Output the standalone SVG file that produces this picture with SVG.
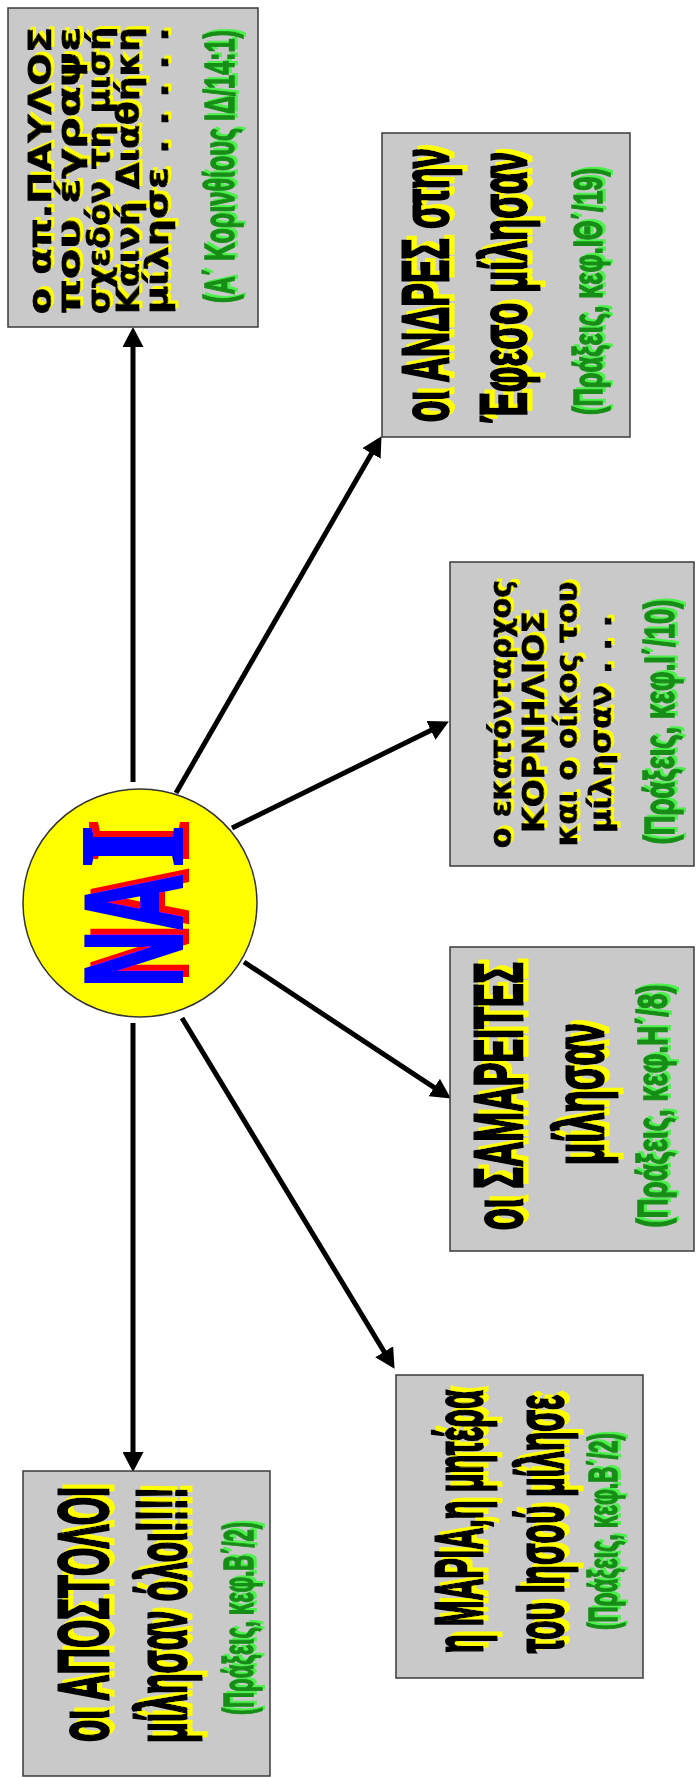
<svg xmlns="http://www.w3.org/2000/svg" width="698" height="1778" viewBox="0 0 698 1778">
<style>
.box{fill:#c9c9c9;stroke:#3a3a3a;stroke-width:1.5}
.vb{font-family:"DejaVu Sans","Liberation Sans",sans-serif;font-weight:bold;fill:#000;stroke:#000;stroke-width:0.9}
.im{font-family:"Liberation Sans","DejaVu Sans",sans-serif;font-weight:bold;fill:#000;stroke:#000;stroke-width:3}
.gr{font-family:"Liberation Sans","DejaVu Sans",sans-serif;font-weight:bold;fill:#178e17;stroke:#178e17;stroke-width:1.6}
.con line{stroke:#000;stroke-width:5;marker-end:url(#ah)}
</style>
<defs>
<marker id="ah" markerUnits="userSpaceOnUse" markerWidth="20" markerHeight="21" refX="7" refY="10.5" orient="auto" viewBox="0 0 20 21">
<path d="M0,0 L20,10.5 L0,21 Z" fill="#000"/>
</marker>
<filter id="ys" x="-5%" y="-5%" width="110%" height="110%">
<feOffset in="SourceAlpha" dx="3" dy="-3" result="o"/>
<feFlood flood-color="#ffff00"/>
<feComposite in2="o" operator="in" result="s"/>
<feMerge><feMergeNode in="s"/><feMergeNode in="SourceGraphic"/></feMerge>
</filter>
<filter id="ys2" x="-5%" y="-5%" width="110%" height="110%">
<feOffset in="SourceAlpha" dx="4.5" dy="-4" result="o"/>
<feFlood flood-color="#ffff00"/>
<feComposite in2="o" operator="in" result="s"/>
<feMerge><feMergeNode in="s"/><feMergeNode in="SourceGraphic"/></feMerge>
</filter>
<filter id="gs" x="-5%" y="-5%" width="110%" height="110%">
<feOffset in="SourceAlpha" dx="2.5" dy="-2" result="o"/>
<feFlood flood-color="#4cf04c"/>
<feComposite in2="o" operator="in" result="s"/>
<feMerge><feMergeNode in="s"/><feMergeNode in="SourceGraphic"/></feMerge>
</filter>
<filter id="rs" x="-10%" y="-10%" width="120%" height="120%">
<feOffset in="SourceAlpha" dx="6" dy="-6" result="o"/>
<feFlood flood-color="#ff0000"/>
<feComposite in2="o" operator="in" result="s"/>
<feMerge><feMergeNode in="s"/><feMergeNode in="SourceGraphic"/></feMerge>
</filter>
</defs>
<rect width="698" height="1778" fill="#fff"/>

<g id="connectors" class="con">
<line x1="133" y1="782" x2="133" y2="340"/>
<line x1="133" y1="1023" x2="133" y2="1459"/>
<line x1="176" y1="793" x2="375" y2="447.4"/>
<line x1="232" y1="828" x2="437.2" y2="727.3"/>
<line x1="244" y1="962" x2="440" y2="1091.4"/>
<line x1="182" y1="1018" x2="387.8" y2="1357.7"/>
</g>

<g id="nai">
<ellipse cx="140" cy="903" rx="117" ry="114" fill="#ffff00" stroke="#333" stroke-width="1.5"/>
<g filter="url(#rs)" fill="#0000ff" stroke="#0000ff" stroke-width="4" font-weight="bold">
<text transform="translate(181,987) rotate(-90) scale(0.57,1)" font-family="Liberation Sans, sans-serif" font-size="138" textLength="198" lengthAdjust="spacingAndGlyphs">ΝΑ</text>
<text transform="translate(181,867) rotate(-90) scale(0.72,1)" font-family="Liberation Serif, serif" font-size="146" textLength="57" lengthAdjust="spacingAndGlyphs">Ι</text>
</g>
</g>

<g id="paulos">
<rect class="box" x="8" y="8" width="250" height="319"/>
<g filter="url(#ys)">
<text class="vb" font-size="32" transform="translate(51,314) rotate(-90)" textLength="287" lengthAdjust="spacingAndGlyphs">ο απ.ΠΑΥΛΟΣ</text>
<text class="vb" font-size="32" transform="translate(80,314) rotate(-90)" textLength="287" lengthAdjust="spacingAndGlyphs">που έγραψε</text>
<text class="vb" font-size="32" transform="translate(110,314) rotate(-90)" textLength="287" lengthAdjust="spacingAndGlyphs">σχεδόν τη μισή</text>
<text class="vb" font-size="32" transform="translate(139,314) rotate(-90)" textLength="287" lengthAdjust="spacingAndGlyphs">Καινή Διαθήκη</text>
<text class="vb" font-size="32" transform="translate(168,314) rotate(-90)" textLength="287" lengthAdjust="spacingAndGlyphs">μίλησε . . . . .</text>
</g>
<g filter="url(#gs)">
<text class="gr" font-size="43" transform="translate(234,303) rotate(-90) scale(0.55,1)" textLength="496" lengthAdjust="spacingAndGlyphs">(Α΄ Κορινθίους ΙΔ/14:1)</text>
</g>
</g>

<g id="efesos">
<rect class="box" x="382" y="133" width="248" height="304"/>
<g filter="url(#ys2)">
<text class="im" font-size="64" transform="translate(448,422) rotate(-90) scale(0.55,1)" textLength="498" lengthAdjust="spacingAndGlyphs">οι ΑΝΔΡΕΣ στην</text>
<text class="im" font-size="64" transform="translate(526,423) rotate(-90) scale(0.55,1)" textLength="493" lengthAdjust="spacingAndGlyphs">Έφεσο μίλησαν</text>
</g>
<g filter="url(#gs)">
<text class="gr" font-size="40" transform="translate(602,415) rotate(-90) scale(0.55,1)" textLength="449" lengthAdjust="spacingAndGlyphs">(Πράξεις, κεφ.ΙΘ΄/19)</text>
</g>
</g>

<g id="kornilios">
<rect class="box" x="450" y="562" width="244" height="304"/>
<g filter="url(#ys)">
<text class="vb" font-size="30" text-anchor="middle" transform="translate(511,714) rotate(-90)" textLength="268" lengthAdjust="spacingAndGlyphs">ο εκατόνταρχος</text>
<text class="vb" font-size="30" text-anchor="middle" transform="translate(544,722) rotate(-90)" textLength="222" lengthAdjust="spacingAndGlyphs">ΚΟΡΝΗΛΙΟΣ</text>
<text class="vb" font-size="30" text-anchor="middle" transform="translate(577,714) rotate(-90)" textLength="265" lengthAdjust="spacingAndGlyphs">και ο οίκος του</text>
<text class="vb" font-size="30" text-anchor="middle" transform="translate(611,724) rotate(-90)" textLength="218" lengthAdjust="spacingAndGlyphs">μίλησαν . . .</text>
</g>
<g filter="url(#gs)">
<text class="gr" font-size="42" text-anchor="middle" transform="translate(674,722) rotate(-90) scale(0.55,1)" textLength="445" lengthAdjust="spacingAndGlyphs">(Πράξεις, κεφ.Ι΄/10)</text>
</g>
</g>

<g id="samareites">
<rect class="box" x="450" y="947" width="244" height="304"/>
<g filter="url(#ys2)">
<text class="im" font-size="68" text-anchor="middle" transform="translate(522,1096) rotate(-90) scale(0.55,1)" textLength="487" lengthAdjust="spacingAndGlyphs">οι ΣΑΜΑΡΕΙΤΕΣ</text>
<text class="im" font-size="68" text-anchor="middle" transform="translate(603,1094) rotate(-90) scale(0.55,1)" textLength="258" lengthAdjust="spacingAndGlyphs">μίλησαν</text>
</g>
<g filter="url(#gs)">
<text class="gr" font-size="42" text-anchor="middle" transform="translate(667,1106) rotate(-90) scale(0.55,1)" textLength="442" lengthAdjust="spacingAndGlyphs">(Πράξεις, κεφ.Η΄/8)</text>
</g>
</g>

<g id="maria">
<rect class="box" x="396" y="1375" width="247" height="303"/>
<g filter="url(#ys2)">
<text class="im" font-size="66" transform="translate(482,1653) rotate(-90) scale(0.55,1)" textLength="478" lengthAdjust="spacingAndGlyphs">η ΜΑΡΙΑ,η μητέρα</text>
<text class="im" font-size="66" transform="translate(563,1653) rotate(-90) scale(0.55,1)" textLength="469" lengthAdjust="spacingAndGlyphs">του Ιησού μίλησε</text>
</g>
<g filter="url(#gs)">
<text class="gr" font-size="40" transform="translate(617,1630) rotate(-90) scale(0.55,1)" textLength="358" lengthAdjust="spacingAndGlyphs">(Πράξεις, κεφ.Β΄/2)</text>
</g>
</g>

<g id="apostoloi">
<rect class="box" x="23" y="1471" width="247" height="305"/>
<g filter="url(#ys2)">
<text class="im" font-size="70" transform="translate(108,1742) rotate(-90) scale(0.55,1)" textLength="464" lengthAdjust="spacingAndGlyphs">οι ΑΠΟΣΤΟΛΟΙ</text>
<text class="im" font-size="70" transform="translate(186,1743) rotate(-90) scale(0.55,1)" textLength="465" lengthAdjust="spacingAndGlyphs">μίλησαν όλοι!!!!</text>
</g>
<g filter="url(#gs)">
<text class="gr" font-size="42" transform="translate(253,1715) rotate(-90) scale(0.55,1)" textLength="351" lengthAdjust="spacingAndGlyphs">(Πράξεις, κεφ.Β΄/2)</text>
</g>
</g>
</svg>
